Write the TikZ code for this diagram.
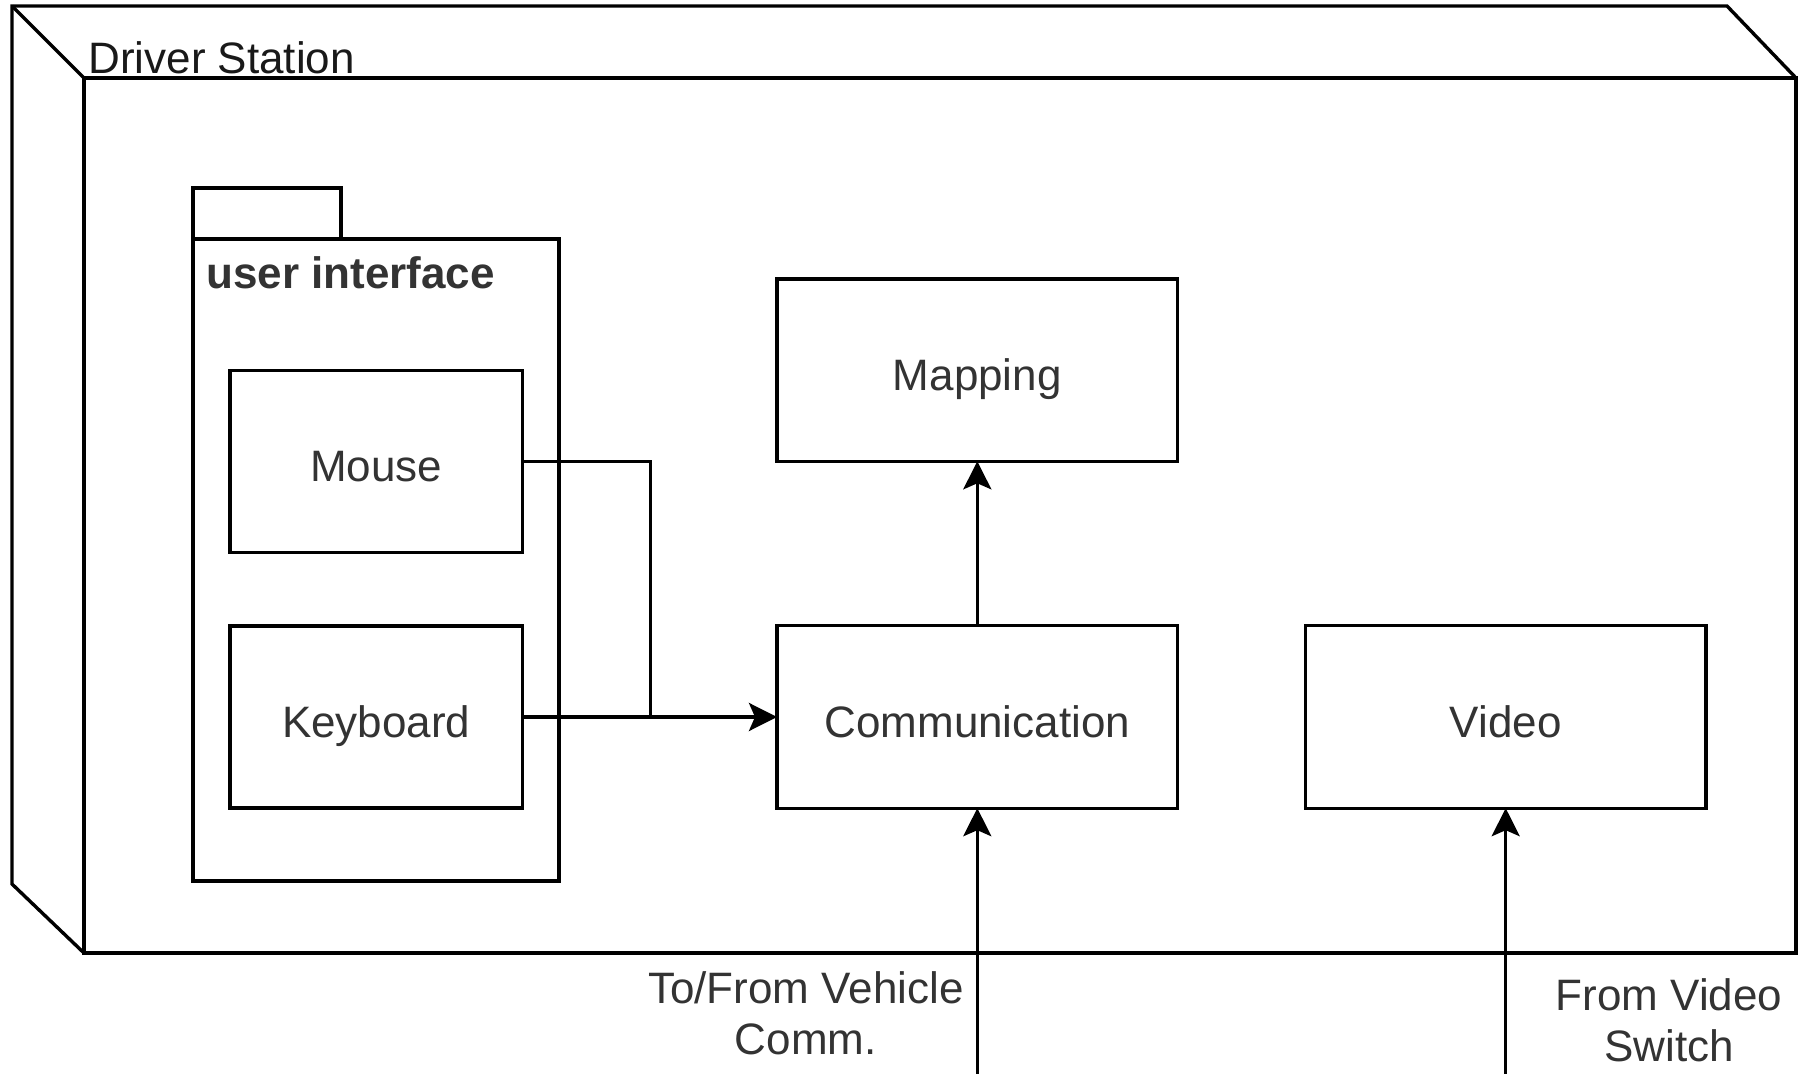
\documentclass[tikz,border=0pt]{standalone}
\usepackage{fontspec}
\setmainfont{Liberation Sans}
\usetikzlibrary{arrows.meta}
\definecolor{txt}{HTML}{333333}
\tikzset{
  ln/.style={line width=1.7pt, line join=miter},
  boxnode/.style={ln, draw, inner sep=0pt, outer sep=0pt, minimum width=146.2pt, minimum height=90.9pt, text=txt, text height=20.4pt, text depth=0pt, font=\fontsize{22}{25.5}\selectfont},
  bigbox/.style={boxnode, minimum width=200.3pt, minimum height=91.2pt},
  lbl/.style={inner sep=0pt, text=txt, align=center, font=\fontsize{22}{25.5}\selectfont},
  arr/.style={ln, -{Stealth[length=14pt, width=14pt, inset=3pt]}}
}
\begin{document}
\begin{tikzpicture}[x=0.5pt, y=-0.5pt]
\useasboundingbox (0,0) rectangle (1805,1074);
% driver station node (3D box)
\coordinate (fTL) at (84,78);
\coordinate (fBR) at (1796,953);
\draw[ln] (84,953) -- (12,884) -- (12,6) -- (1727,6) -- (1796,78);
\draw[ln] (12,6) -- (fTL);
\draw[ln, fill=white] (fTL) rectangle (fBR);
\node[lbl, anchor=west, text=black!90] (dslabel) at (88,58) {Driver Station};
% package
\draw[ln] (193,188) rectangle (341,239);
\draw[ln] (193,239) rectangle (559,881);
\node[lbl, anchor=west, font=\bfseries\fontsize{22}{25.5}\selectfont] (pkglabel) at (206,273) {user interface};
% components
\node[boxnode] (mouse) at (376.3,461.6) {Mouse};
\node[boxnode] (keyboard) at (376.3,717) {Keyboard};
\node[bigbox] (mapping) at (977.3,370.1) {Mapping};
\node[bigbox] (comm) at (977.3,717) {Communication};
\node[bigbox] (video) at (1505.7,717) {Video};
% connectors
\coordinate (bend) at (650.4,717);
\draw[ln] (mouse.east) -| (bend);
\draw[arr] (keyboard.east) -- (comm.west);
\draw[arr] (comm.north) -- (mapping.south);
\coordinate (commIn) at (977.3,1074);
\coordinate (videoIn) at (1505.7,1074);
\draw[arr] (commIn) -- (comm.south);
\draw[arr] (videoIn) -- (video.south);
% labels
\node[lbl] (commlabel) at (805.8,1013) {To/From Vehicle\\Comm.};
\node[lbl] (videolabel) at (1669,1020) {From Video\\Switch};
\end{tikzpicture}
\end{document}
